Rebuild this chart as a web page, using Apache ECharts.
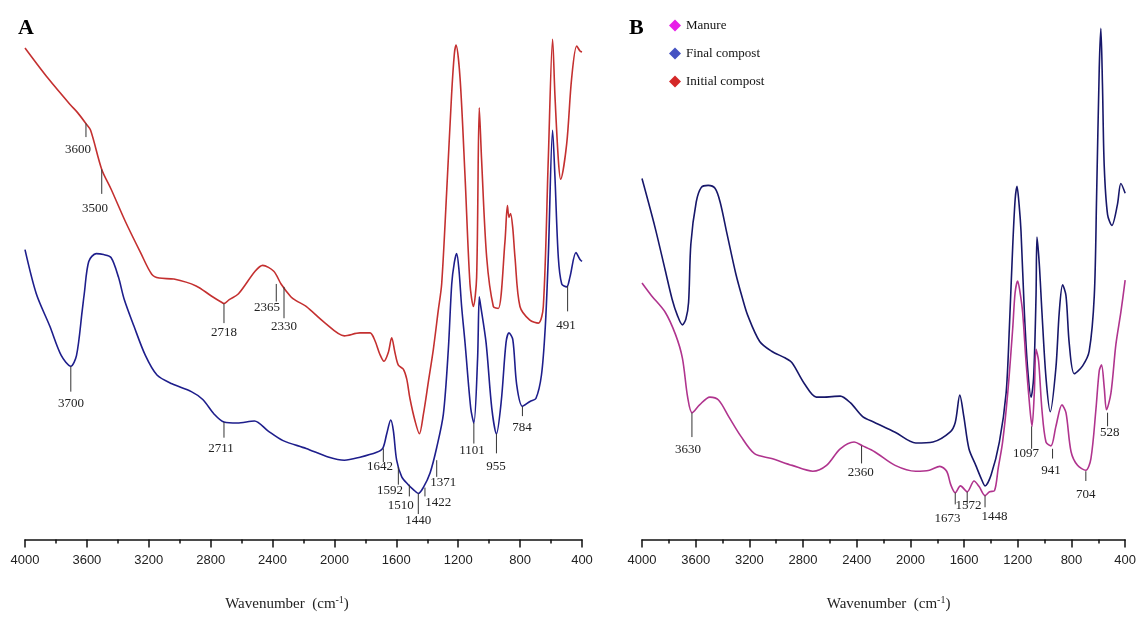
<!DOCTYPE html>
<html>
<head>
<meta charset="utf-8">
<script src="https://cdn.jsdelivr.net/npm/echarts@6/dist/echarts.min.js"></script>
<style>html,body{margin:0;padding:0;background:#fff}#chart{width:1139px;height:617px}</style>
</head>
<body>
<div id="chart"></div>
<script>
// Wavenumber axis (cm-1), reversed
const wnMin = 400, wnMax = 4000, wnStep = 400;
const seriesNames = ['Manure', 'Final compost', 'Initial compost'];

// Panel A: initial compost (red) [wavenumber, relative transmittance]
const initialCompostA = [
[4000,100.4],[3851,94.2],[3707,88.8],[3660,87.2],[3607,85.0],[3576,83.6],[3504,75.6],[3444,71.6],
[3349,64.8],[3253,58.6],[3181,54.2],[3133,53.4],[3038,53.2],[2894,51.8],[2798,49.8],[2727,48.4],
[2714,48.2],[2680,49.0],[2620,50.2],[2513,54.8],[2464,56.0],[2392,54.8],[2345,52.2],[2282,49.6],
[2248,48.8],[2183,47.6],[2060,44.2],[1936,41.6],[1835,42.2],[1770,42.2],[1738,40.6],[1706,37.8],
[1680,36.4],[1652,38.2],[1630,41.2],[1609,38.2],[1587,35.6],[1555,34.8],[1533,32.8],[1512,28.8],
[1479,24.2],[1451,21.6],[1425,25.6],[1393,32.2],[1361,38.8],[1329,46.8],[1307,52.2],[1275,70.8],
[1243,90.8],[1225,99.2],[1214,101.0],[1188,94.2],[1156,74.2],[1124,52.2],[1102,47.6],[1081,53.6],
[1064,88.2],[1049,77.6],[1016,57.6],[973,47.6],[941,47.2],[898,60.8],[882,68.2],[872,65.8],[862,66.6],
[848,63.8],[833,57.6],[801,47.6],[737,44.8],[682,44.2],[650,47.6],[618,77.6],[590,102.2],[575,90.8],
[553,77.6],[538,73.6],[499,80.8],[467,94.2],[434,100.8],[413,99.8],[400,99.6]
];

// Panel A: final compost (blue)
const finalCompostA = [
[4000,59.2],[3927,50.2],[3840,43.6],[3766,37.6],[3704,35.4],[3667,37.6],[3630,46.8],[3617,50.2],
[3588,56.8],[3540,58.4],[3492,58.2],[3444,57.6],[3396,53.6],[3360,49.2],[3296,43.6],[3222,37.6],
[3147,33.6],[3050,31.8],[2925,30.2],[2851,28.6],[2777,25.6],[2714,24.0],[2628,23.8],[2517,24.2],
[2430,22.2],[2332,20.2],[2183,18.6],[2035,16.8],[1936,16.2],[1835,16.8],[1727,17.8],[1688,18.6],
[1662,21.6],[1636,24.4],[1619,22.2],[1598,16.2],[1565,12.8],[1523,11.2],[1490,10.2],[1458,9.4],
[1426,10.6],[1382,13.6],[1339,18.8],[1296,25.6],[1264,38.8],[1242,52.2],[1225,56.6],[1210,58.4],
[1195,55.0],[1178,47.6],[1156,40.2],[1119,26.8],[1099,23.8],[1075,36.8],[1064,49.6],[1057,48.2],
[1020,40.2],[983,26.8],[953,21.6],[922,28.2],[891,40.2],[872,42.2],[847,40.8],[822,31.6],[785,27.2],
[736,28.2],[698,28.8],[662,33.6],[637,43.6],[618,57.6],[590,83.6],[575,74.2],[553,57.6],[531,52.2],
[499,51.6],[478,53.6],[439,58.6],[413,57.2],[400,56.8]
];

// Panel B: final compost (navy)
const finalCompostB = [
[4000,74.0],[3903,64.0],[3827,55.2],[3775,49.2],[3737,46.0],[3699,44.0],[3673,45.2],[3653,48.6],
[3636,60.6],[3596,69.2],[3558,72.2],[3507,72.6],[3456,72.0],[3418,69.2],[3366,62.6],[3302,54.6],
[3251,49.4],[3213,46.0],[3123,40.6],[3034,38.6],[2932,37.2],[2881,36.2],[2791,32.0],[2701,29.2],
[2651,29.2],[2523,29.4],[2446,28.0],[2356,25.2],[2267,24.0],[2114,22.0],[1960,19.8],[1832,20.0],
[1705,22.0],[1666,24.0],[1632,29.6],[1602,25.2],[1564,18.6],[1513,15.2],[1474,12.6],[1444,11.0],
[1399,13.2],[1337,20.0],[1287,30.0],[1263,43.2],[1238,60.0],[1220,69.6],[1206,72.4],[1190,68.6],
[1176,63.2],[1151,46.6],[1127,35.2],[1101,29.2],[1082,33.2],[1064,50.0],[1057,62.0],[1040,56.6],
[1020,46.6],[990,33.2],[958,26.2],[916,35.2],[891,46.6],[866,52.2],[841,50.0],[816,40.0],[779,34.0],
[717,35.6],[668,38.6],[630,50.0],[613,70.0],[593,96.6],[581,104.8],[569,93.2],[556,76.6],[531,66.6],
[499,64.4],[458,68.6],[432,73.0],[400,71.0]
];

// Panel B: manure (magenta)
const manureB = [
[4000,52.6],[3929,50.0],[3827,46.6],[3750,42.0],[3699,37.2],[3660,29.2],[3627,26.0],[3571,27.6],
[3494,29.2],[3430,28.6],[3354,25.2],[3264,21.2],[3162,17.6],[3034,16.6],[2881,15.2],[2727,14.0],
[2625,15.2],[2523,18.6],[2420,20.0],[2356,19.2],[2267,18.0],[2114,15.2],[1960,14.0],[1858,14.2],
[1781,15.0],[1730,14.0],[1699,11.2],[1666,9.6],[1627,11.0],[1577,9.8],[1526,12.0],[1487,10.8],
[1444,9.0],[1410,9.8],[1374,10.0],[1346,14.6],[1313,20.0],[1275,30.0],[1238,43.2],[1220,50.6],
[1201,53.0],[1185,51.0],[1164,46.6],[1139,36.6],[1109,26.6],[1094,23.2],[1077,30.0],[1064,39.0],
[1045,36.6],[1020,26.6],[990,20.0],[953,19.2],[916,23.2],[871,27.6],[841,26.0],[803,18.0],[755,15.2],
[693,14.2],[655,16.6],[618,26.6],[593,34.6],[576,35.8],[556,31.2],[539,26.6],[506,30.0],[469,40.0],
[432,46.6],[400,53.2]
];

// Peak annotations: label text, and [tick wavenumber, tick top, tick bottom, label wavenumber, label level]
const peakLabelsA = ['3600','3500','3700','2718','2365','2330','2711','1642','1592','1510','1440','1422','1371','1101','955','784','491'];
const peakMarksA = [
[3606,85.0,82.2,3657,79.6],[3504,75.6,70.6,3548,67.6],[3704,35.4,30.2,3703,27.8],[2714,48.2,44.2,2714,42.2],
[2376,52.2,48.6,2436,47.4],[2326,51.6,45.2,2326,43.4],[2714,24.0,20.8,2733,18.6],[1684,18.6,15.8,1706,14.8],
[1587,14.8,11.2,1641,10.0],[1516,11.2,8.8,1572,7.0],[1458,9.4,5.2,1458,3.8],[1415,10.6,8.8,1329,7.6],
[1339,16.2,12.8,1296,11.6],[1099,23.8,19.6,1111,18.2],[953,21.6,17.6,956,14.8],[785,27.2,25.2,788,22.8],
[493,51.8,46.6,503,43.8]
];
const peakLabelsB = ['3630','2360','1673','1572','1448','1097','941','704','528'];
const peakMarksB = [
[3628,26.0,21.0,3658,18.4],[2364,19.2,15.6,2371,13.8],[1666,9.6,7.2,1724,4.2],[1577,9.8,7.2,1568,7.0],
[1444,9.0,6.6,1374,4.6],[1097,23.2,18.6,1139,17.6],[941,18.6,16.6,953,14.2],[693,14.0,12.0,693,9.2],
[531,26.0,23.2,514,22.0]
];

const serif = '"Liberation Serif", "Times New Roman", serif';
const sans = '"Liberation Sans", Arial, sans-serif';

function makeAnnoRenderer(labels) {
  return function (params, api) {
    const p1 = api.coord([api.value(0), api.value(1)]);
    const p2 = api.coord([api.value(0), api.value(2)]);
    const pl = api.coord([api.value(3), api.value(4)]);
    return {
      type: 'group',
      children: [
        {type: 'line', shape: {x1: p1[0], y1: p1[1], x2: p2[0], y2: p2[1]}, style: {stroke: '#333', lineWidth: 1}},
        {type: 'text', x: pl[0], y: pl[1], style: {text: labels[params.dataIndex], textAlign: 'center', textVerticalAlign: 'middle', font: '13px ' + serif, fill: '#222'}}
      ]
    };
  };
}

function xAxisFor(gridIndex, namePad) {
  return {
    gridIndex: gridIndex, type: 'value', inverse: true, min: wnMin, max: wnMax, interval: wnStep,
    axisLine: {show: true, lineStyle: {color: '#111', width: 1.5}},
    axisTick: {show: true, length: 8, lineStyle: {color: '#111', width: 1.5}},
    minorTick: {show: true, splitNumber: 2, length: 4, lineStyle: {color: '#111', width: 1.5}},
    axisLabel: {color: '#222', fontFamily: sans, fontSize: 13, margin: 14, formatter: function (v) { return String(v); }},
    splitLine: {show: false},
    name: 'Wavenumber  (cm{sup|-1})', nameLocation: 'middle', nameGap: 56,
    nameTextStyle: {fontFamily: serif, fontSize: 15, color: '#222', padding: namePad,
      rich: {sup: {fontFamily: serif, fontSize: 10, color: '#222', verticalAlign: 'top', padding: [0, 0, 8, 0]}}}
  };
}
function yAxisFor(gridIndex) {
  return {gridIndex: gridIndex, type: 'value', min: 0, max: 110, show: false, splitLine: {show: false}};
}

const chart = echarts.init(document.getElementById('chart'), null, {renderer: 'canvas'});
chart.setOption({
  animation: false,
  backgroundColor: '#fff',
  title: [
    {text: 'A', left: 13, top: 12, textStyle: {fontFamily: serif, fontSize: 22, fontWeight: 'bold', color: '#000'}},
    {text: 'B', left: 624, top: 12, textStyle: {fontFamily: serif, fontSize: 22, fontWeight: 'bold', color: '#000'}}
  ],
  legend: {
    orient: 'vertical', left: 664, top: 14, itemGap: 15, itemWidth: 12, itemHeight: 12, icon: 'diamond',
    textStyle: {fontFamily: serif, fontSize: 13, color: '#111'},
    data: [
      {name: seriesNames[0], itemStyle: {color: '#e81ee8'}},
      {name: seriesNames[1], itemStyle: {color: '#4552c2'}},
      {name: seriesNames[2], itemStyle: {color: '#d42828'}}
    ]
  },
  grid: [
    {left: 25, right: 557, top: 1, bottom: 66},
    {left: 642, right: 13, top: 3, bottom: 64}
  ],
  xAxis: [xAxisFor(0, [0, 33, 0, 0]), xAxisFor(1, [0, 0, 0, 10])],
  yAxis: [yAxisFor(0), yAxisFor(1)],
  series: [
    {name: seriesNames[2], type: 'line', xAxisIndex: 0, yAxisIndex: 0, data: initialCompostA, showSymbol: false, smooth: 0.3,
      lineStyle: {color: '#c43030', width: 1.6}, itemStyle: {color: '#c43030'}},
    {name: seriesNames[1], type: 'line', xAxisIndex: 0, yAxisIndex: 0, data: finalCompostA, showSymbol: false, smooth: 0.3,
      lineStyle: {color: '#1e1e8c', width: 1.6}, itemStyle: {color: '#1e1e8c'}},
    {name: seriesNames[1], type: 'line', xAxisIndex: 1, yAxisIndex: 1, data: finalCompostB, showSymbol: false, smooth: 0.3,
      lineStyle: {color: '#17176a', width: 1.6}, itemStyle: {color: '#17176a'}},
    {name: seriesNames[0], type: 'line', xAxisIndex: 1, yAxisIndex: 1, data: manureB, showSymbol: false, smooth: 0.3,
      lineStyle: {color: '#b0348e', width: 1.6}, itemStyle: {color: '#b0348e'}},
    {name: 'peaksA', type: 'custom', xAxisIndex: 0, yAxisIndex: 0, data: peakMarksA, renderItem: makeAnnoRenderer(peakLabelsA),
      encode: {x: [0, 3], y: [1, 2, 4]}, silent: true, clip: false, z: 5},
    {name: 'peaksB', type: 'custom', xAxisIndex: 1, yAxisIndex: 1, data: peakMarksB, renderItem: makeAnnoRenderer(peakLabelsB),
      encode: {x: [0, 3], y: [1, 2, 4]}, silent: true, clip: false, z: 5}
  ]
});
</script>
</body>
</html>
